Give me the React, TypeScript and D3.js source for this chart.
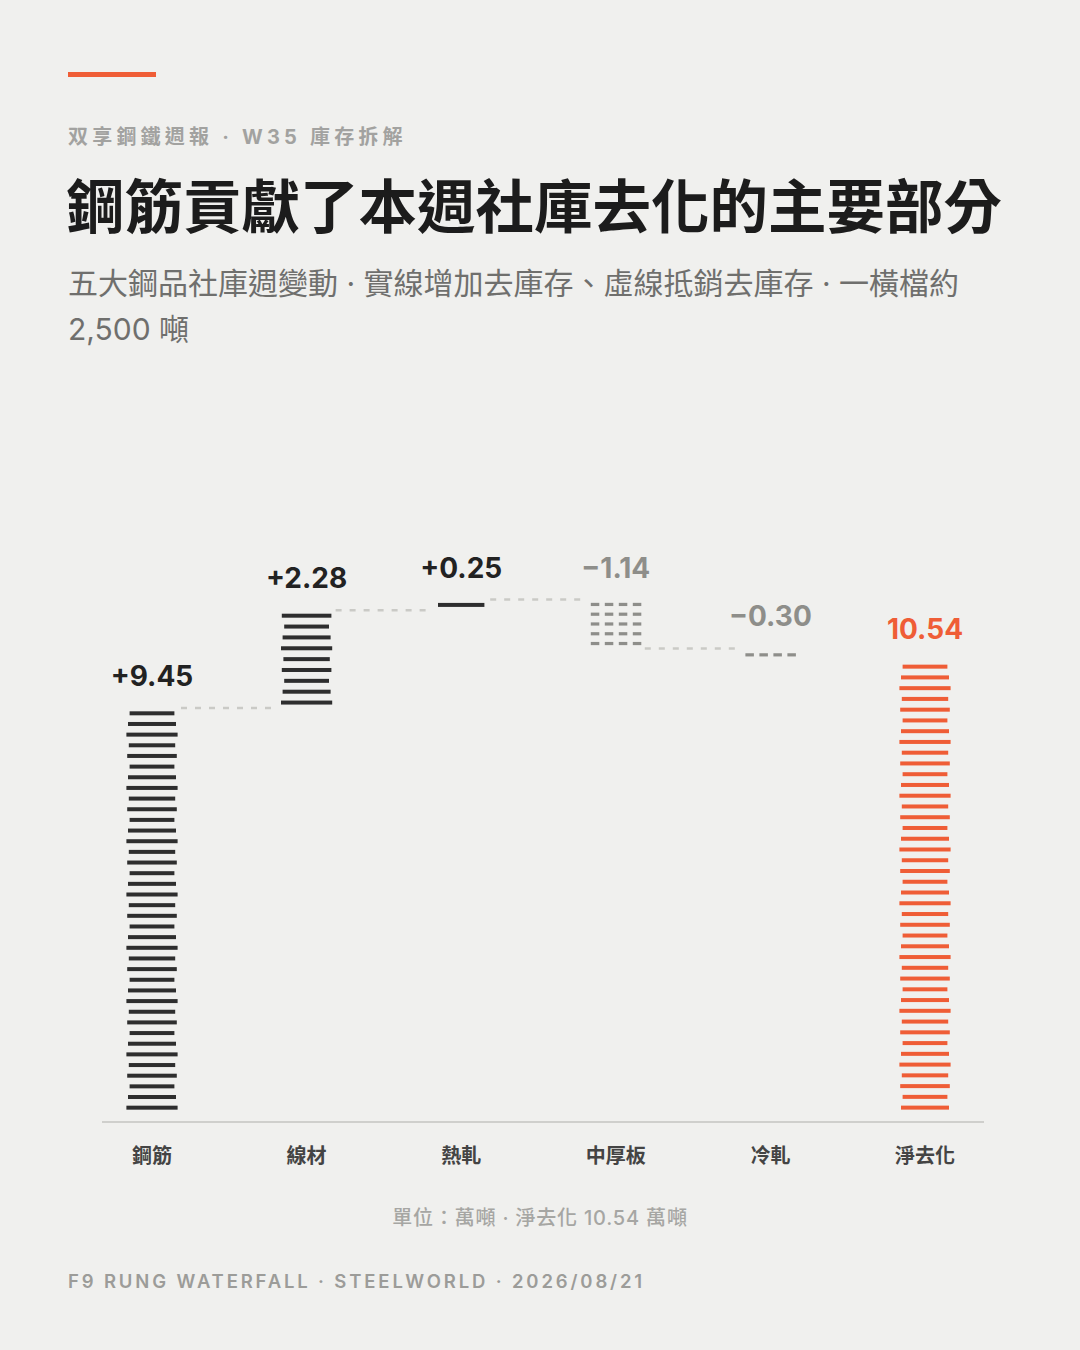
import React from 'react';
import { scalePoint, scaleLinear, range } from 'd3';

const categories = ['鋼筋', '線材', '熱軋', '中厚板', '冷軋', '淨去化'];
const changes = [9.45, 2.28, 0.25, -1.14, -0.3];
const valueLabels = ['+9.45', '+2.28', '+0.25', '−1.14', '−0.30', '10.54'];
const totalValue = 10.54;
const rungUnit = 0.25; // one rung ≈ 2,500 tons

const W = 1080;
const H = 1350;
const BG = '#f0f0ee';
const INK = '#222222';
const GREY = '#8e8e8a';
const ORANGE = '#ef5d36';
const CJK = '"Noto Sans CJK TC", "Noto Sans", sans-serif';
const LATIN = 'Inter, "Noto Sans CJK TC", sans-serif';

type Step = { cat: string; start: number; end: number; kind: 'pos' | 'neg' | 'total'; label: string };

function buildSteps(): Step[] {
  let acc = 0;
  const steps: Step[] = changes.map((v, i) => {
    const start = acc;
    acc += v;
    return { cat: categories[i], start, end: acc, kind: v >= 0 ? 'pos' : 'neg', label: valueLabels[i] };
  });
  steps.push({ cat: categories[5], start: 0, end: totalValue, kind: 'total', label: valueLabels[5] });
  return steps;
}

// small deterministic wobble for the hand-laid rung widths
const wobble = (i: number, j: number) => ((i * 7 + j * 13) % 5) * 1.6 - 3.2;

export default function App() {
  const steps = buildSteps();
  const x = scalePoint<string>().domain(categories).range([152, 925]);
  const y = scaleLinear().domain([0, 12]).range([1113, 598.7]);

  const rungs: React.ReactNode[] = [];
  steps.forEach((s, j) => {
    const cx = x(s.cat)!;
    const top = y(Math.max(s.start, s.end));
    const bottom = y(Math.min(s.start, s.end));
    const n = Math.max(1, Math.round(Math.abs(s.end - s.start) / rungUnit));
    const step = (bottom - top) / n;
    range(n).forEach((i) => {
      const ry = top + (i + 0.5) * step;
      if (s.kind === 'neg') {
        range(4).forEach((k) => {
          rungs.push(
            <rect key={`r${j}-${i}-${k}`} x={cx - 25 + k * 14} y={ry - 1.6} width={8.5} height={3.2} fill={GREY} />
          );
        });
      } else {
        const w = 48 + wobble(i, j);
        rungs.push(
          <rect
            key={`r${j}-${i}`}
            x={cx - w / 2}
            y={ry - 2}
            width={w}
            height={4}
            fill={s.kind === 'total' ? ORANGE : '#2e2e2e'}
          />
        );
      }
    });
  });

  const connectors = steps.slice(0, 4).map((s, i) => {
    const x1 = x(s.cat)! + 29;
    const x2 = x(steps[i + 1].cat)! - 29;
    const yy = y(s.end);
    return (
      <line key={`c${i}`} x1={x1} x2={x2} y1={yy} y2={yy} stroke="#cacac6" strokeWidth={2.5} strokeDasharray="6 8" />
    );
  });

  return (
    <svg
      width={W}
      height={H}
      viewBox={`0 0 ${W} ${H}`}
      style={{ position: 'absolute', top: 0, left: 0, display: 'block', background: BG }}
    >
      <rect width={W} height={H} fill={BG} />
      <rect x={68} y={72} width={88} height={5} fill={ORANGE} />

      <text x={68} y={144} fontFamily={LATIN} fontSize={20} fontWeight={700} fill="#a2a2a0" letterSpacing={4.2}>
        双享鋼鐵週報 · W35 庫存拆解
      </text>
      <text x={66} y={228} fontFamily={CJK} fontSize={58.5} fontWeight={700} fill="#1c1c1c">
        鋼筋貢獻了本週社庫去化的主要部分
      </text>
      <text fontFamily={LATIN} fontSize={30} fill="#6f6f6d">
        <tspan x={68} y={294}>五大鋼品社庫週變動 · 實線增加去庫存、虛線抵銷去庫存 · 一橫檔約</tspan>
        <tspan x={68} y={340}>2,500 噸</tspan>
      </text>

      {connectors}
      {rungs}

      {steps.map((s, j) => (
        <text
          key={`v${j}`}
          x={x(s.cat)!}
          y={y(Math.max(s.start, s.end)) - 22}
          textAnchor="middle"
          fontFamily={LATIN}
          fontSize={28}
          fontWeight={700}
          fill={s.kind === 'total' ? ORANGE : s.kind === 'neg' ? GREY : INK}
        >
          {s.label}
        </text>
      ))}

      <line x1={102} x2={984} y1={1122} y2={1122} stroke="#cfcfcc" strokeWidth={2} />
      {categories.map((c) => (
        <text
          key={c}
          x={x(c)!}
          y={1163}
          textAnchor="middle"
          fontFamily={CJK}
          fontSize={20}
          fontWeight={700}
          fill="#444444"
        >
          {c}
        </text>
      ))}

      <text
        x={540}
        y={1225}
        textAnchor="middle"
        fontFamily={LATIN}
        fontSize={20}
        fontWeight={500}
        fill="#a6a6a3"
        letterSpacing={0.8}
      >
        單位：萬噸 · 淨去化 10.54 萬噸
      </text>
      <text x={68} y={1288} fontFamily={LATIN} fontSize={18.5} fontWeight={600} fill="#9c9c99" letterSpacing={2.85}>
        F9 RUNG WATERFALL · STEELWORLD · 2026/08/21
      </text>
    </svg>
  );
}
